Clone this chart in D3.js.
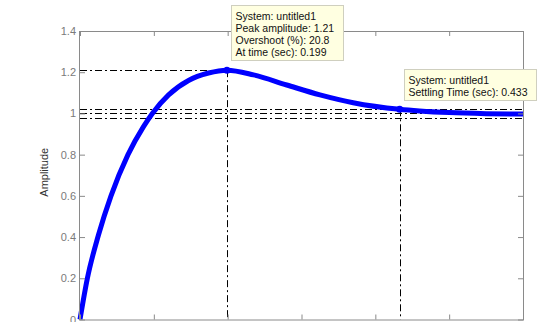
<!DOCTYPE html>
<html>
<head>
<meta charset="utf-8">
<script src="https://cdn.jsdelivr.net/npm/d3@7"></script>
<style>
  body { margin: 0; background: #fff; }
  svg { display: block; font-family: 'Liberation Sans', Arial, sans-serif; }
</style>
</head>
<body>
<div id="chart"></div>
<script>
// values
const timeValues = [0, 0.01, 0.025, 0.042, 0.065, 0.086, 0.098, 0.12, 0.147, 0.174, 0.199, 0.235, 0.28, 0.325, 0.37, 0.433, 0.46, 0.5, 0.55, 0.6]
const amplitudeValues = [0, 0.2, 0.41, 0.6, 0.8, 0.936, 1.0, 1.09, 1.16, 1.196, 1.21, 1.187, 1.138, 1.09, 1.052, 1.02, 1.012, 1.004, 0.999, 0.997]

const xTicks = [0, 0.1, 0.2, 0.3, 0.4, 0.5, 0.6]
const yTicks = [0, 0.2, 0.4, 0.6, 0.8, 1, 1.2, 1.4]
const bandLevels = [1.02, 1, 0.98]

const peakTime = 0.199
const peakAmplitude = 1.21
const settlingTime = 0.433
const settlingAmplitude = 1.02

const peakTip = ['System: untitled1', 'Peak amplitude: 1.21', 'Overshoot (%): 20.8', 'At time (sec): 0.199']
const settlingTip = ['System: untitled1', 'Settling Time (sec): 0.433']

const margin = {
  top: 31,
  right: 24,
  bottom: 2.5,
  left: 80
}
const width = 547 - margin.left - margin.right
const height = 322 - margin.top - margin.bottom

const data = timeValues.map((t, i) => ({ t: t, v: amplitudeValues[i] }))

const xScale = d3.scaleLinear()
  .domain([0, 0.6])
  .range([0, width])

const yScale = d3.scaleLinear()
  .domain([0, 1.4])
  .range([height, 0])

const svg = d3.select('#chart')
  .append('svg')
  .attr('width', 547)
  .attr('height', 322)

const g = svg.append('g')
  .attr('transform', `translate(${margin.left}, ${margin.top})`)

const dashDot = '7,3,2,3'
const guides = g.append('g')
  .attr('stroke', '#000')
  .attr('stroke-width', 1)
  .attr('stroke-dasharray', dashDot)
  .attr('fill', 'none')

// settling band
guides.selectAll('.band')
  .data(bandLevels)
  .enter()
  .append('line')
  .attr('x1', 0)
  .attr('x2', width)
  .attr('y1', (d) => Math.round(yScale(d)) + 0.5)
  .attr('y2', (d) => Math.round(yScale(d)) + 0.5)

// peak guides
guides.append('line')
  .attr('x1', 0)
  .attr('x2', xScale(peakTime))
  .attr('y1', Math.round(yScale(peakAmplitude)) + 0.5)
  .attr('y2', Math.round(yScale(peakAmplitude)) + 0.5)

guides.append('line')
  .attr('x1', Math.round(xScale(peakTime)) + 0.5)
  .attr('x2', Math.round(xScale(peakTime)) + 0.5)
  .attr('y1', yScale(peakAmplitude))
  .attr('y2', height)

guides.append('line')
  .attr('x1', Math.round(xScale(settlingTime)) + 0.5)
  .attr('x2', Math.round(xScale(settlingTime)) + 0.5)
  .attr('y1', yScale(settlingAmplitude))
  .attr('y2', height)

// response curve
const line = d3.line()
  .x((d) => xScale(d.t))
  .y((d) => yScale(d.v))
  .curve(d3.curveMonotoneX)

g.append('path')
  .datum(data)
  .attr('fill', 'none')
  .attr('stroke', '#0000ff')
  .attr('stroke-width', 5)
  .attr('stroke-linejoin', 'round')
  .attr('d', line)

g.selectAll('.marker')
  .data([[peakTime, peakAmplitude], [settlingTime, settlingAmplitude]])
  .enter()
  .append('circle')
  .attr('cx', (d) => xScale(d[0]))
  .attr('cy', (d) => yScale(d[1]))
  .attr('r', 3.5)
  .attr('fill', '#0000ff')

// axes box with inward ticks
const axisColor = '#8a8a8a'
const styleAxis = (sel) => {
  sel.select('.domain').remove()
  sel.selectAll('.tick line').attr('stroke', axisColor)
  sel.selectAll('.tick text')
    .attr('fill', '#7a7a7a')
    .style('font-size', '11px')
    .style('font-family', "'Liberation Sans', Arial, sans-serif")
}

g.append('g')
  .call(d3.axisLeft(yScale).tickValues(yTicks).tickSizeInner(-5).tickSizeOuter(0).tickPadding(4).tickFormat(d3.format('')))
  .call(styleAxis)
  .selectAll('.tick text')
  .attr('x', -4)

g.append('g')
  .attr('transform', `translate(${width}, 0)`)
  .call(d3.axisRight(yScale).tickValues(yTicks).tickSizeInner(-5).tickSizeOuter(0).tickFormat(''))
  .call(styleAxis)

// time labels sit below the visible area, so only the ticks are drawn
g.append('g')
  .attr('transform', `translate(0, ${height})`)
  .call(d3.axisBottom(xScale).tickValues(xTicks).tickSizeInner(-5).tickSizeOuter(0).tickFormat(''))
  .call(styleAxis)

g.append('g')
  .call(d3.axisTop(xScale).tickValues(xTicks).tickSizeInner(-5).tickSizeOuter(0).tickFormat(''))
  .call(styleAxis)

g.append('rect')
  .attr('x', -0.5)
  .attr('y', 0.5)
  .attr('width', width + 1)
  .attr('height', height)
  .attr('fill', 'none')
  .attr('stroke', axisColor)
  .attr('stroke-width', 1)

g.append('text')
  .attr('transform', `translate(${-32}, ${height / 2 - 3}) rotate(-90)`)
  .attr('text-anchor', 'middle')
  .attr('fill', '#333')
  .style('font-size', '11px')
  .text('Amplitude')

// data tips
function dataTip(x, y, w, lines) {
  const tip = svg.append('g')
    .attr('transform', `translate(${x}, ${y})`)
  tip.append('rect')
    .attr('x', 0.5)
    .attr('y', 0.5)
    .attr('width', w)
    .attr('height', lines.length * 12 + 7)
    .attr('fill', '#ffffe1')
    .attr('stroke', '#cfcfbf')
  tip.selectAll('text')
    .data(lines)
    .enter()
    .append('text')
    .attr('x', 4.5)
    .attr('y', (d, i) => 15 + i * 12)
    .attr('fill', '#111')
    .style('font-size', '10.5px')
    .text((d) => d)
}

dataTip(231, 5, 112, peakTip)
dataTip(404, 69, 132, settlingTip)
</script>
</body>
</html>
